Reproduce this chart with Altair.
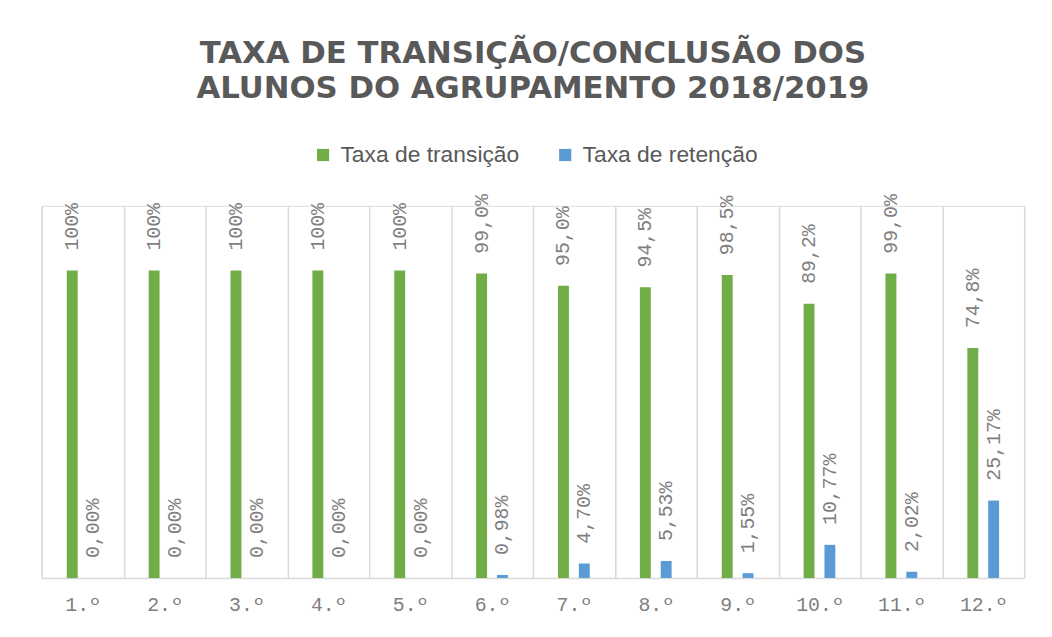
import altair as alt
import pandas as pd

anos = ["1.º", "2.º", "3.º", "4.º", "5.º", "6.º", "7.º", "8.º", "9.º", "10.º", "11.º", "12.º"]
transicao = [100, 100, 100, 100, 100, 99.0, 95.0, 94.5, 98.5, 89.2, 99.0, 74.8]
retencao = [0.00, 0.00, 0.00, 0.00, 0.00, 0.98, 4.70, 5.53, 1.55, 10.77, 2.02, 25.17]
rot_transicao = ["100%", "100%", "100%", "100%", "100%", "99,0%", "95,0%", "94,5%", "98,5%", "89,2%", "99,0%", "74,8%"]
rot_retencao = ["0,00%", "0,00%", "0,00%", "0,00%", "0,00%", "0,98%", "4,70%", "5,53%", "1,55%", "10,77%", "2,02%", "25,17%"]
series = ["Taxa de transição", "Taxa de retenção"]
cores = ["#70ad47", "#5b9bd5"]

rows = []
for i, a in enumerate(anos):
    rows.append({"ano": a, "serie": series[0], "valor": transicao[i], "rotulo": rot_transicao[i]})
    rows.append({"ano": a, "serie": series[1], "valor": retencao[i], "rotulo": rot_retencao[i]})
df = pd.DataFrame(rows)

base = alt.Chart(df).encode(
    x=alt.X(
        "ano:N", sort=anos, title=None,
        scale=alt.Scale(paddingInner=0, paddingOuter=0),
        axis=alt.Axis(
            labelAngle=0, labelFont="Liberation Mono", labelFontSize=20,
            labelColor="#7f7f7f", labelPadding=17, ticks=False,
            domainColor="#d9d9d9", domainWidth=1.5,
            grid=True, gridColor="#d9d9d9", gridWidth=1.5, tickBand="extent",
        ),
    ),
    xOffset=alt.XOffset(
        "serie:N", sort=series,
        scale=alt.Scale(domain=series, paddingInner=0, paddingOuter=0.964),
    ),
    y=alt.Y("valor:Q", scale=alt.Scale(domain=[0, 121]), axis=None),
)

bars = base.mark_bar(size=11).encode(
    color=alt.Color(
        "serie:N",
        scale=alt.Scale(domain=series, range=cores),
        legend=alt.Legend(
            title=None, orient="none", legendX=272, legendY=-63,
            direction="horizontal", symbolType="square", symbolSize=150,
            symbolStrokeWidth=0, labelFont="Liberation Sans", labelFontSize=23,
            labelColor="#595959", labelOffset=6, columnPadding=34, labelLimit=400,
        ),
    )
)

labels = base.mark_text(
    angle=270, align="left", baseline="middle", dx=20,
    font="Liberation Mono", fontSize=20, color="#7f7f7f",
).encode(text="rotulo:N")

chart = (bars + labels).properties(
    width=990, height=375,
    padding={"left": 34, "top": 197, "right": 20, "bottom": 40},
    autosize="none",
    title=alt.Title(
        ["TAXA DE TRANSIÇÃO/CONCLUSÃO DOS", "ALUNOS DO AGRUPAMENTO 2018/2019"],
        font="DejaVu Sans", fontSize=31, fontWeight="bold",
        color="#595959", lineHeight=35, anchor="middle", offset=39,
    ),
).configure_view(stroke=None).configure(background="white")

chart.save("out.html", embed_options={"renderer": "svg", "actions": False})
